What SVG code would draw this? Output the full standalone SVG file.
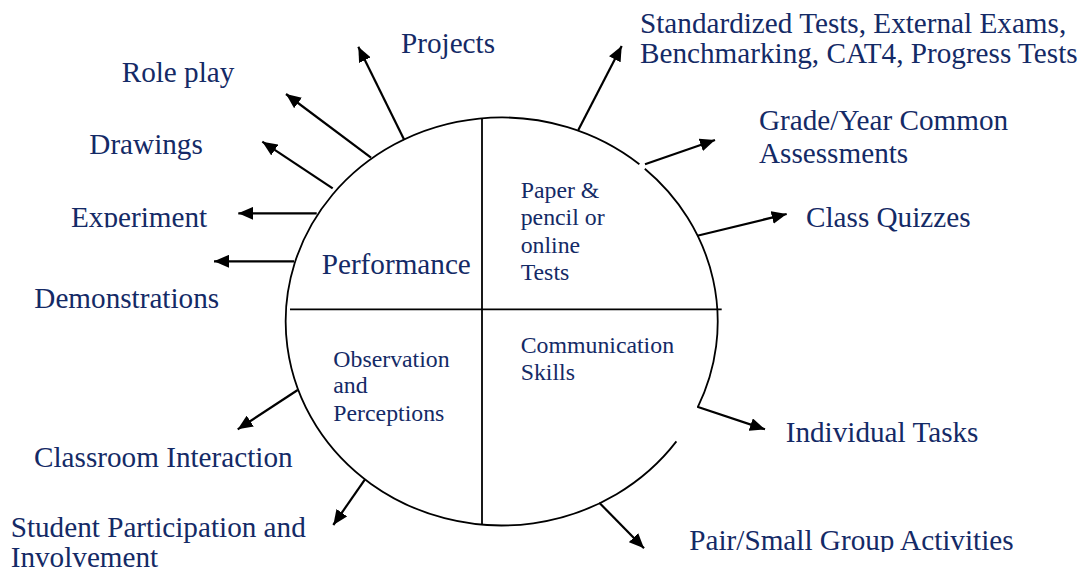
<svg xmlns="http://www.w3.org/2000/svg" width="1089" height="573" viewBox="0 0 1089 573">
<style>
.lbl{font-family:"Liberation Serif","Times New Roman",serif;font-size:29.2px;fill:#142a66}
.in{font-family:"Liberation Serif","Times New Roman",serif;font-size:23.8px;fill:#142a66}
.ring{fill:none;stroke:#000;stroke-width:1.8}
.arr{fill:none;stroke:#000;stroke-width:2.2;marker-end:url(#ah)}
</style>
<defs>
<marker id="ah" markerUnits="userSpaceOnUse" viewBox="0 0 15 13" markerWidth="15" markerHeight="13" refX="15" refY="6.5" orient="auto">
<path d="M0,0 L15,6.5 L0,13 Z" fill="#000"/>
</marker>
<clipPath id="cExp"><rect x="0" y="180" width="300" height="47.5"/></clipPath>
<clipPath id="cPair"><rect x="600" y="500" width="489" height="52"/></clipPath>
</defs>
<rect width="1089" height="573" fill="#fff"/>
<g id="wheel">
<path class="ring" d="M644.8,168.7 A216,204 0 0 1 697.8,407.1"/>
<path class="ring" d="M676.4,441.4 A216,204 0 1 1 639.4,164.3"/>
<line class="ring" x1="482" y1="118" x2="482" y2="525"/>
<line class="ring" x1="290" y1="309.3" x2="721.7" y2="309.3"/>
</g>
<g id="connectors">
<line class="arr" x1="404.3" y1="140" x2="358.3" y2="46.7"/>
<line class="arr" x1="371" y1="157.7" x2="286" y2="94"/>
<line class="arr" x1="332.7" y1="188.3" x2="262.3" y2="141.7"/>
<line class="arr" x1="316.7" y1="213.3" x2="238.3" y2="213.3"/>
<line class="arr" x1="294" y1="261.3" x2="214" y2="261.3"/>
<line class="arr" x1="578.3" y1="130" x2="621.7" y2="46"/>
<line class="arr" x1="645" y1="164.3" x2="715" y2="140"/>
<line class="arr" x1="697.3" y1="235.7" x2="786.7" y2="214"/>
<line class="arr" x1="697.3" y1="406.7" x2="765" y2="429.3"/>
<line class="arr" x1="599.3" y1="502.7" x2="644" y2="548.3"/>
<line class="arr" x1="297.7" y1="390" x2="237.7" y2="429.3"/>
<line class="arr" x1="365" y1="479.3" x2="333.3" y2="525"/>
</g>
<g id="performance"><text class="lbl" x="321.7" y="274">Performance</text></g>
<g id="paper"><text class="in" x="520.7" y="198.3">Paper &amp;</text><text class="in" x="520.7" y="225.3">pencil or</text><text class="in" x="520.7" y="252.7">online</text><text class="in" x="520.7" y="280">Tests</text></g>
<g id="communication"><text class="in" x="520.7" y="353.3">Communication</text><text class="in" x="520.7" y="380">Skills</text></g>
<g id="observation"><text class="in" x="333.3" y="366.7">Observation</text><text class="in" x="333.3" y="393.3">and</text><text class="in" x="333.3" y="420.7">Perceptions</text></g>
<g id="projects"><text class="lbl" x="401" y="52.5">Projects</text></g>
<g id="roleplay"><text class="lbl" x="121.7" y="82.3">Role play</text></g>
<g id="drawings"><text class="lbl" x="89.3" y="154.3">Drawings</text></g>
<g id="experiment" clip-path="url(#cExp)"><text class="lbl" x="71" y="226.7">Experiment</text></g>
<g id="demonstrations"><text class="lbl" x="34.3" y="308.3">Demonstrations</text></g>
<g id="standardized"><text class="lbl" x="640" y="33.3">Standardized Tests, External Exams,</text><text class="lbl" x="640" y="63.3">Benchmarking, CAT4, Progress Tests</text></g>
<g id="grade"><text class="lbl" x="759" y="130">Grade/Year Common</text><text class="lbl" x="759" y="163.3">Assessments</text></g>
<g id="quizzes"><text class="lbl" x="806" y="226.7">Class Quizzes</text></g>
<g id="individual"><text class="lbl" x="785.7" y="442.3">Individual Tasks</text></g>
<g id="pair" clip-path="url(#cPair)"><text class="lbl" x="689.3" y="550">Pair/Small Group Activities</text></g>
<g id="classroom"><text class="lbl" x="34" y="466.7">Classroom Interaction</text></g>
<g id="student"><text class="lbl" x="10.7" y="536.7">Student Participation and</text><text class="lbl" x="10.7" y="567">Involvement</text></g>
</svg>
